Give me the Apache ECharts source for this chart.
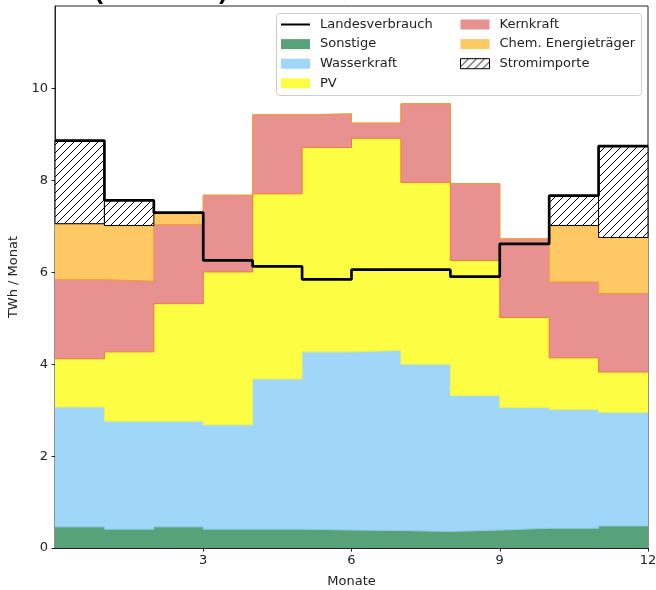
<!DOCTYPE html>
<html>
<head>
<meta charset="utf-8">
<script src="https://cdn.jsdelivr.net/npm/echarts@6/dist/echarts.min.js"></script>
<style>
  html, body { margin: 0; padding: 0; background: #fff; }
  #chart { width: 656px; height: 590px; }
</style>
</head>
<body>
<div id="chart"></div>
<script>
// Monatswerte in TWh (Monat 1..12)
var monate = [1, 2, 3, 4, 5, 6, 7, 8, 9, 10, 11, 12];
var sonstige = [0.46, 0.41, 0.46, 0.41, 0.41, 0.39, 0.38, 0.36, 0.39, 0.43, 0.43, 0.48];
var wasserkraft = [2.61, 2.35, 2.30, 2.27, 3.27, 3.88, 3.92, 3.64, 2.93, 2.63, 2.58, 2.47];
var pv = [1.05, 1.51, 2.56, 3.33, 4.03, 4.45, 4.62, 3.96, 2.94, 1.96, 1.13, 0.88];
var kernkraft = [1.72, 1.54, 1.72, 1.67, 1.72, 0.73, 0.33, 1.71, 1.67, 1.71, 1.65, 1.71];
var chem = [1.22, 1.21, 0.24, 0, 0, 0, 0, 0, 0, 0, 1.23, 1.22];
var importe = [1.81, 0.55, 0, 0, 0, 0, 0, 0, 0, 0, 0.65, 1.98];
var verbrauch = [8.87, 7.57, 7.30, 6.26, 6.13, 5.85, 6.06, 6.06, 5.91, 6.62, 7.67, 8.75];
var xTicks = [3, 6, 9, 12];

var FONT = 'DejaVu Sans';

// kumulierte Summen der Erzeugung (Stapel)
var schichten = [sonstige, wasserkraft, pv, kernkraft, chem];
var kumuliert = [];
var summe = monate.map(function () { return 0; });
schichten.forEach(function (s) {
  summe = summe.map(function (v, i) { return v + s[i]; });
  kumuliert.push(summe.slice());
});

// Stufen: Wert von Monat m gilt von m-1 bis m
function stufen(arr) {
  var d = [];
  for (var i = 0; i < arr.length; i++) d.push([monate[i] - 1, arr[i]]);
  d.push([monate[arr.length - 1], arr[arr.length - 1]]);
  return d;
}

// Schraffur fuer Stromimporte
var hatch = document.createElement('canvas');
hatch.width = 8; hatch.height = 8;
var hc = hatch.getContext('2d');
hc.fillStyle = '#fff';
hc.fillRect(0, 0, 8, 8);
hc.strokeStyle = '#000';
hc.lineWidth = 1;
hc.beginPath();
hc.moveTo(0, 8); hc.lineTo(8, 0);
hc.moveTo(-1, 1); hc.lineTo(1, -1);
hc.moveTo(7, 9); hc.lineTo(9, 7);
hc.stroke();
var hatchFill = { image: hatch, repeat: 'repeat' };

// Rechtecke fuer Importe (Basis = Summe der Erzeugung)
var importData = [];
for (var i = 0; i < monate.length; i++) {
  if (importe[i] > 0) {
    var basis = kumuliert[4][i];
    importData.push([monate[i] - 1, monate[i], basis, basis + importe[i]]);
  }
}

// Flaeche bis 0, hoehere Schichten zuerst gezeichnet
function flaeche(name, oben, fill, edge, z) {
  return {
    name: name,
    type: 'line',
    step: 'end',
    symbol: 'none',
    data: stufen(oben),
    itemStyle: { color: fill },
    lineStyle: { color: edge, width: 1 },
    areaStyle: { color: fill, opacity: 1, origin: 'start' },
    z: z
  };
}

var chart = echarts.init(document.getElementById('chart'));
var option = {
  animation: false,
  grid: {
    left: 55, right: 8, top: 6, bottom: 42,
    outerBoundsMode: 'none', containLabel: false,
    show: true, borderColor: '#222', borderWidth: 1, backgroundColor: 'transparent'
  },
  graphic: [
    {
      type: 'text', z: 10,
      style: {
        text: '(Hoch)', x: 161, y: 9, align: 'center', verticalAlign: 'bottom',
        font: '43px "DejaVu Sans"', fill: '#000'
      }
    },
    {
      type: 'rect', z: 3,
      shape: { x: 276.5, y: 13.5, width: 365, height: 82, r: 3 },
      style: { fill: 'rgba(255,255,255,0.8)', stroke: '#cccccc', lineWidth: 1 }
    }
  ],
  legend: [
    {
      orient: 'vertical', left: 280, top: 16.5, z: 5, padding: 0,
      itemWidth: 29, itemHeight: 10, itemGap: 3.6,
      textStyle: { fontFamily: FONT, fontSize: 13, color: '#222', lineHeight: 16, padding: [0, 0, 0, 5] },
      data: [
        { name: 'Landesverbrauch', itemStyle: { color: 'rgba(0,0,0,0)', borderWidth: 0, opacity: 0 } },
        { name: 'Sonstige', icon: 'rect', itemStyle: { borderWidth: 0 } },
        { name: 'Wasserkraft', icon: 'rect', itemStyle: { borderWidth: 0 } },
        { name: 'PV', icon: 'rect', itemStyle: { borderWidth: 0 } }
      ]
    },
    {
      orient: 'vertical', left: 460, top: 16.5, z: 5, padding: 0,
      itemWidth: 29, itemHeight: 10, itemGap: 3.6,
      textStyle: { fontFamily: FONT, fontSize: 13, color: '#222', lineHeight: 16, padding: [0, 0, 0, 5] },
      data: [
        { name: 'Kernkraft', icon: 'rect', itemStyle: { borderWidth: 0 } },
        { name: 'Chem. Energieträger', icon: 'rect', itemStyle: { borderWidth: 0 } },
        { name: 'Stromimporte', icon: 'rect', itemStyle: { color: hatchFill, borderColor: '#000', borderWidth: 1 } }
      ]
    }
  ],
  xAxis: {
    type: 'value', min: 0, max: 12, interval: 3,
    name: 'Monate', nameLocation: 'middle', nameGap: 27,
    nameTextStyle: { fontFamily: FONT, fontSize: 13, color: '#222' },
    axisLine: { show: true, onZero: false, lineStyle: { color: '#222', width: 1 } },
    axisTick: { show: true, length: 3.5, lineStyle: { color: '#222' } },
    axisLabel: {
      fontFamily: FONT, fontSize: 13, color: '#222', margin: 6, showMinLabel: false,
      formatter: function (v) { return xTicks.indexOf(v) >= 0 ? String(v) : ''; }
    },
    splitLine: { show: false }
  },
  yAxis: {
    type: 'value', min: 0, max: 11.8, interval: 2,
    name: 'TWh / Monat', nameLocation: 'middle', nameGap: 30,
    nameTextStyle: { fontFamily: FONT, fontSize: 13, color: '#222' },
    axisLine: { show: true, lineStyle: { color: '#222', width: 1 } },
    axisTick: { show: true, length: 3.5, lineStyle: { color: '#222' } },
    axisLabel: { fontFamily: FONT, fontSize: 13, color: '#222', margin: 7, showMaxLabel: false },
    splitLine: { show: false }
  },
  series: [
    flaeche('Chem. Energieträger', kumuliert[4], '#fec864', '#f7961e', 1),
    flaeche('Kernkraft', kumuliert[3], '#e79191', '#f5963a', 1.1),
    flaeche('PV', kumuliert[2], '#fdfd44', '#f07a3c', 1.2),
    flaeche('Wasserkraft', kumuliert[1], '#a0d6f8', '#e2ef72', 1.3),
    flaeche('Sonstige', kumuliert[0], '#57a278', '#8ccbe6', 1.4),
    {
      name: 'Stromimporte',
      type: 'custom',
      z: 3,
      itemStyle: { color: hatchFill, borderColor: '#000', borderWidth: 1 },
      renderItem: function (params, api) {
        var p0 = api.coord([api.value(0), api.value(3)]);
        var p1 = api.coord([api.value(1), api.value(2)]);
        return {
          type: 'rect',
          shape: { x: p0[0], y: p0[1], width: p1[0] - p0[0], height: p1[1] - p0[1] },
          style: { fill: hatchFill, stroke: '#000', lineWidth: 1 }
        };
      },
      encode: { x: [0, 1], y: [2, 3] },
      data: importData
    },
    {
      name: 'Landesverbrauch',
      type: 'line',
      step: 'end',
      symbol: 'none',
      data: stufen(verbrauch),
      itemStyle: { color: '#000' },
      lineStyle: { color: '#000', width: 2.7 },
      z: 4
    }
  ]
};
chart.setOption(option);
</script>
</body>
</html>
